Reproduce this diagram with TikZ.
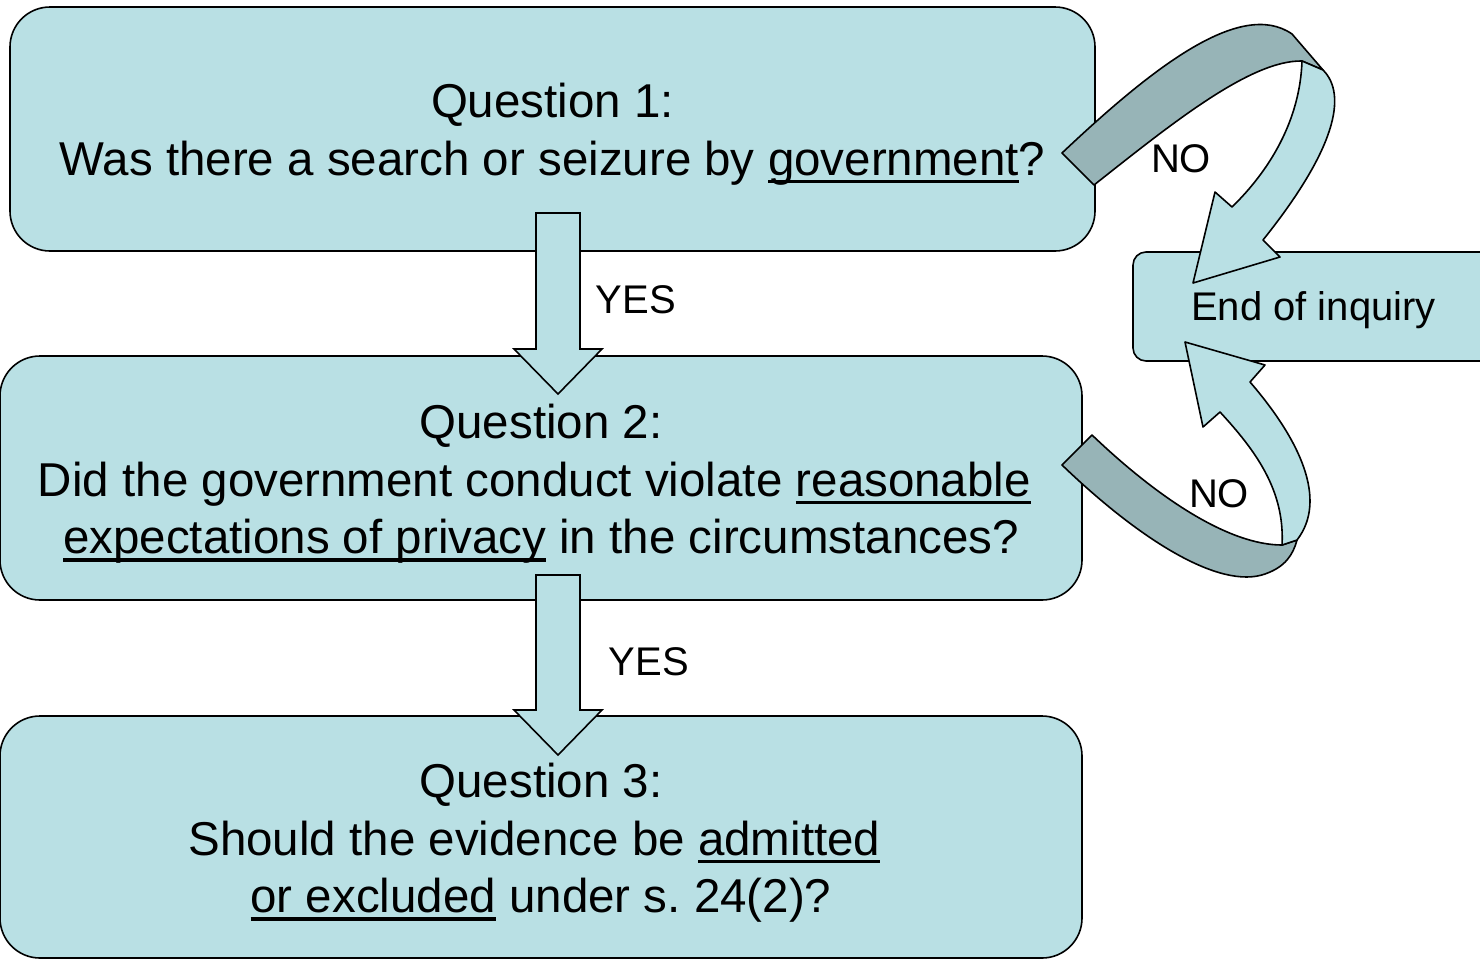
\documentclass[tikz,border=0pt]{standalone}
\usepackage{fontspec}
\setmainfont{Liberation Sans}
\frenchspacing
\definecolor{boxfill}{RGB}{185,224,228}
\definecolor{bandfill}{RGB}{151,180,183}
\newcommand\ulin[1]{\setbox0=\hbox{#1}\rlap{\rule[-0.17em]{\wd0}{0.075em}}\box0\relax}
\newcommand\trail{\rule{0.278em}{0pt}}
\tikzset{
  qbox/.style={draw=black, line width=1.6pt, fill=boxfill, rounded corners=40pt, inner sep=0pt},
  qtext/.style={align=center, inner sep=0pt, font=\fontsize{47.5}{57.5}\selectfont},
  endbox/.style={draw=black, line width=1.6pt, fill=boxfill, rounded corners=13pt, inner sep=0pt},
  blockarrow/.style={draw=black, line width=1.6pt, fill=boxfill, line join=miter},
  band/.style={draw=black, line width=1.6pt, fill=bandfill, line join=round},
  lbl/.style={inner sep=0pt, font=\fontsize{40}{48}\selectfont}
}
\begin{document}
\begin{tikzpicture}[x=1pt,y=-1pt]
\useasboundingbox (0,0) rectangle (1480,959);
% boxes
\node[qbox, minimum width=1085pt, minimum height=244pt] (q1) at (552.5,129) {};
\node[qtext] (t1) at ([yshift=-5pt]q1.center)
  {Question 1:\\ Was there a search or seizure by \ulin{government}?};
\node[qbox, minimum width=1082pt, minimum height=244pt] (q2) at (541,478) {};
\node[qtext] (t2) at ([yshift=-6pt]q2.center)
  {Question 2:\\ Did the government conduct violate \ulin{reasonable}\trail\\ \ulin{expectations of privacy} in the circumstances?};
\node[qbox, minimum width=1082pt, minimum height=242pt] (q3) at (541,837) {};
\node[qtext] (t3) at ([yshift=-6pt]q3.center)
  {Question 3:\\ Should the evidence be \ulin{admitted}\trail\\ \ulin{or excluded} under s. 24(2)?};
\node[endbox, minimum width=367pt, minimum height=109pt] (end) at (1316.5,306.5) {};
\node[lbl] (endt) at ([xshift=-3pt,yshift=-4pt]end.center) {End of inquiry};
% straight block arrows
\draw[blockarrow] (536,213) -- (580,213) -- (580,349) -- (602,349) -- (558,394) -- (514,349) -- (536,349) -- cycle;
\draw[blockarrow] (536,575) -- (580,575) -- (580,710) -- (602,710) -- (558,755) -- (514,710) -- (536,710) -- cycle;
\node[lbl] (yes1) at (636,300) {YES};
\node[lbl] (yes2) at (649,662) {YES};
% top curved arrow (q1 -> end)
\draw[band] (1062,153) .. controls (1150,70) and (1240,-2) .. (1292,34) -- (1323,70) -- (1302,61)
  .. controls (1250,60) and (1170,125) .. (1094,185) -- cycle;
\draw[blockarrow, line join=round] (1302,61) .. controls (1300,120) and (1270,170) .. (1232,207)
  -- (1215,192) -- (1193,283) -- (1280,257) -- (1263,240)
  .. controls (1335,150) and (1348,95) .. (1323,70) -- cycle;
\node[lbl] (no1) at (1181,159) {NO};
% bottom curved arrow (q2 -> end)
\draw[band] (1092,435) .. controls (1160,500) and (1230,545) .. (1282,545) -- (1297,540)
  .. controls (1293,555) and (1285,567) .. (1265,574)
  .. controls (1220,590) and (1140,540) .. (1062,465) -- cycle;
\draw[blockarrow, line join=round] (1282,545) .. controls (1285,490) and (1255,450) .. (1220,412)
  -- (1203,427) -- (1185,342) -- (1265,365) -- (1250,382)
  .. controls (1300,440) and (1328,500) .. (1297,540) -- cycle;
\node[lbl] (no2) at (1219,494) {NO};
\end{tikzpicture}
\end{document}
